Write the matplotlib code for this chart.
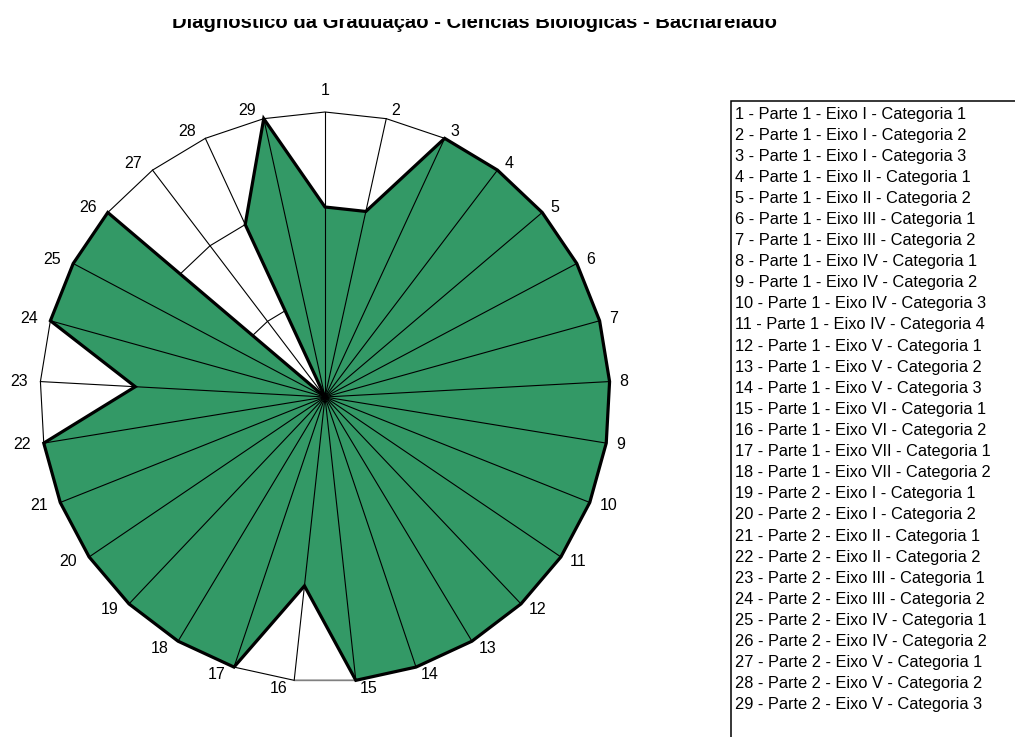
import numpy as np
import matplotlib
matplotlib.use("Agg")
import matplotlib.pyplot as plt
from matplotlib.patches import Rectangle, Polygon

plt.rcParams['font.family'] = ['Liberation Sans', 'DejaVu Sans']

title = "Diagnóstico da Graduação - Ciências Biológicas - Bacharelado"
axis_ids = [str(i) for i in range(1, 30)]
values = [2, 2, 3, 3, 3, 3, 3, 3, 3, 3, 3, 3, 3, 3, 3, 2, 3, 3, 3, 3, 3, 3, 2, 3, 3, 3, 0, 2, 3]
scale_max = 3
grid_levels = [1, 2, 3]
legend_labels = [
    "1 - Parte 1 - Eixo I - Categoria 1",
    "2 - Parte 1 - Eixo I - Categoria 2",
    "3 - Parte 1 - Eixo I - Categoria 3",
    "4 - Parte 1 - Eixo II - Categoria 1",
    "5 - Parte 1 - Eixo II - Categoria 2",
    "6 - Parte 1 - Eixo III - Categoria 1",
    "7 - Parte 1 - Eixo III - Categoria 2",
    "8 - Parte 1 - Eixo IV - Categoria 1",
    "9 - Parte 1 - Eixo IV - Categoria 2",
    "10 - Parte 1 - Eixo IV - Categoria 3",
    "11 - Parte 1 - Eixo IV - Categoria 4",
    "12 - Parte 1 - Eixo V - Categoria 1",
    "13 - Parte 1 - Eixo V - Categoria 2",
    "14 - Parte 1 - Eixo V - Categoria 3",
    "15 - Parte 1 - Eixo VI - Categoria 1",
    "16 - Parte 1 - Eixo VI - Categoria 2",
    "17 - Parte 1 - Eixo VII - Categoria 1",
    "18 - Parte 1 - Eixo VII - Categoria 2",
    "19 - Parte 2 - Eixo I - Categoria 1",
    "20 - Parte 2 - Eixo I - Categoria 2",
    "21 - Parte 2 - Eixo II - Categoria 1",
    "22 - Parte 2 - Eixo II - Categoria 2",
    "23 - Parte 2 - Eixo III - Categoria 1",
    "24 - Parte 2 - Eixo III - Categoria 2",
    "25 - Parte 2 - Eixo IV - Categoria 1",
    "26 - Parte 2 - Eixo IV - Categoria 2",
    "27 - Parte 2 - Eixo V - Categoria 1",
    "28 - Parte 2 - Eixo V - Categoria 2",
    "29 - Parte 2 - Eixo V - Categoria 3",
]

W, H = 1015, 737
fig = plt.figure(figsize=(W / 100, H / 100), dpi=100)
ax = fig.add_axes([0, 0, 1, 1])
cx, cy, R = 325, 397, 285  # pixel geometry of the radar
ax.set_xlim(-cx / R, (W - cx) / R)
ax.set_ylim(-(H - cy) / R, cy / R)
ax.axis('off')

n = len(values)
ang = np.pi / 2 - np.arange(n) * 2 * np.pi / n
ux, uy = np.cos(ang), np.sin(ang)

# outer polygon background + grid levels
outer = np.column_stack([ux, uy])
ax.add_patch(Polygon(outer, closed=True, facecolor='white', edgecolor='black', lw=0.8, zorder=1))
ax.plot([ux[14], ux[15]], [uy[14], uy[15]], color='#808080', lw=1.0, zorder=1.1)
for lv in grid_levels[:-1]:
    f = lv / scale_max
    ax.add_patch(Polygon(outer * f, closed=True, fill=False, edgecolor='black', lw=0.8, zorder=1))

# data polygon
r = np.array(values) / scale_max
pts = np.column_stack([ux * r, uy * r])
ax.add_patch(Polygon(pts, closed=True, facecolor='#339966', edgecolor='none', zorder=2))

# spokes
for i in range(n):
    ax.plot([0, ux[i]], [0, uy[i]], color='black', lw=0.8, zorder=3)

ax.add_patch(Polygon(pts, closed=True, fill=False, edgecolor='black', lw=2.3,
                     joinstyle='miter', zorder=4))

# axis labels
pt = 0.72  # points per pixel at 100 dpi
for i in range(n):
    c, s = ux[i], uy[i]
    if abs(c) < 0.05:
        ax.annotate(axis_ids[i], xy=(c, s), xytext=(0, 14 * pt), textcoords='offset points',
                    ha='center', va='bottom', fontsize=11.5, zorder=5)
        continue
    ha = 'left' if c > 0 else 'right'
    dx = (3 + 7 * c) if c > 0 else -(6 + 7 * abs(c))
    dy = 1.5 + 8 * s
    ax.annotate(axis_ids[i], xy=(c, s), xytext=(dx * pt, dy * pt), textcoords='offset points',
                ha=ha, va='center_baseline', fontsize=11.5, zorder=5)

# title (top clipped as in reference)
fig.text(474 / W, 1 - 27.5 / H, title, ha='center', va='baseline', fontsize=14.6,
         fontweight='bold')
fig.patches.append(Rectangle((0, 1 - 18.5 / H), 1, 18.5 / H, transform=fig.transFigure,
                             facecolor='white', edgecolor='none', zorder=10))

# legend box
fig.patches.append(Rectangle((731 / W, -0.05), 0.3, 1.05 - 101 / H, transform=fig.transFigure,
                             facecolor='white', edgecolor='black', lw=1.1, zorder=1))
y0, dy_leg = 114, 21.1
for k, lab in enumerate(legend_labels):
    fig.text(735 / W, 1 - (y0 + k * dy_leg) / H, lab, ha='left', va='center', fontsize=11.8)

fig.savefig('out.png', dpi=100)
